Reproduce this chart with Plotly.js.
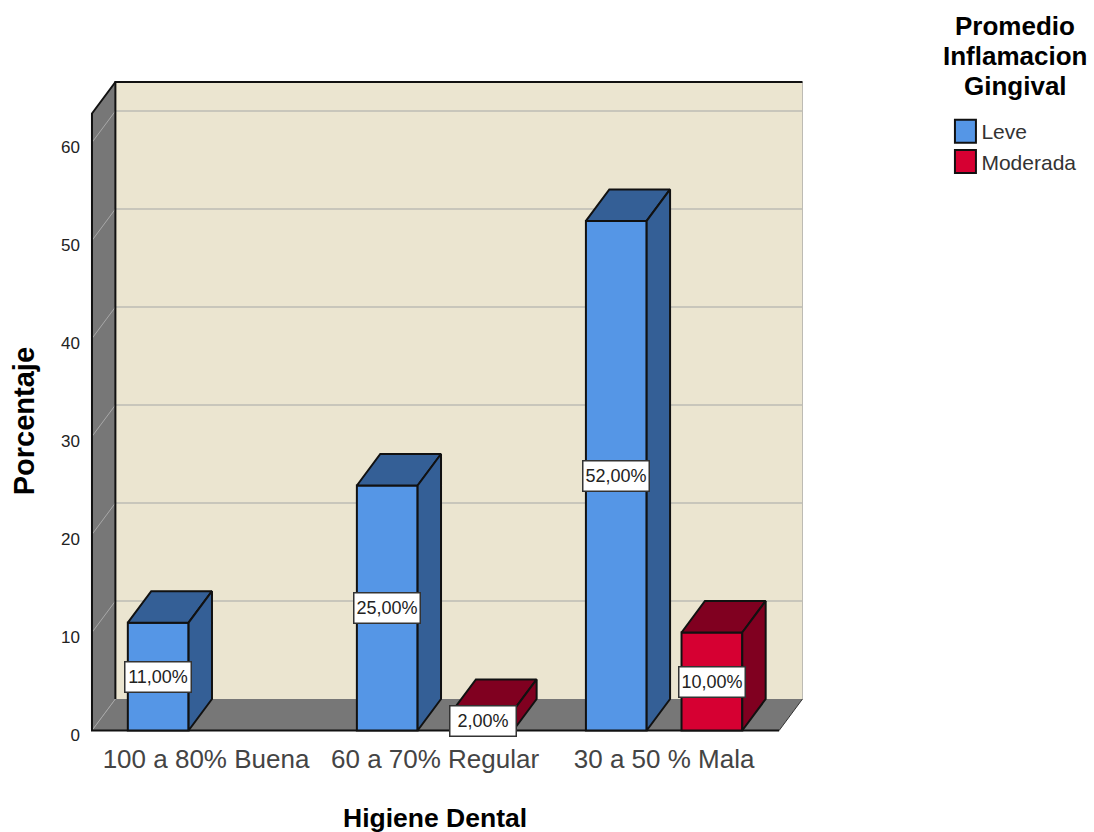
<!DOCTYPE html>
<html>
<head>
<meta charset="utf-8">
<script src="https://cdn.plot.ly/plotly-3.0.1.min.js"></script>
<style>html,body{margin:0;padding:0;background:#fff}</style>
</head>
<body>
<div id="chart" style="width:1094px;height:832px"></div>
<script>
const categories = ["100 a 80% Buena", "60 a 70% Regular", "30 a 50 % Mala"];
const leve = [11, 25, 52];
const moderada = [null, 2, 10];
const yTicks = [0, 10, 20, 30, 40, 50, 60];
const legendLines = ["Promedio", "Inflamacion", "Gingival"];

const FONT = "Liberation Sans, Arial, sans-serif";
const BLUE = "#5596E6", BLUE_DK = "#345F96", RED = "#D60032", RED_DK = "#800020";
const WALL = "#777777", BACK = "#EBE5D0", GRID = "#BDBBB4", EDGE = "#111111";

// pixel frame of the plot area and scales of the two axes
const box = {l: 88, r: 809, t: 78, b: 735, w: 1094, h: 832};
const catPx = 206.5, catUnit = 230, zeroPx = 730.5, valUnit = 9.8;
const xPx = p => (p - catPx) / catUnit;
const yPx = p => (zeroPx - p) / valUnit;

// oblique projection: how far the depth of the scene shifts a point
const depthX = 23.5 / catUnit, depthY = 31.5 / valUnit;
const barW = 61 / catUnit, barShift = 48 / catUnit;
const wallL = xPx(92), wallR = xPx(782), wallTop = yPx(113.5);

const path = pts => "M" + pts.map(p => p[0] + "," + p[1]).join("L") + "Z";
const open = pts => "M" + pts.map(p => p[0] + "," + p[1]).join("L");
const shape = (d, fill, line, width) => ({
  type: "path", path: d, xref: "x", yref: "y", layer: "below",
  fillcolor: fill || "rgba(0,0,0,0)",
  line: {color: line || "rgba(0,0,0,0)", width: width || 0}
});

const shapes = [
  shape(path([[wallL + depthX, depthY], [wallR + depthX, depthY], [wallR + depthX, wallTop + depthY], [wallL + depthX, wallTop + depthY]]), BACK),
  shape(path([[wallL, 0], [wallL + depthX, depthY], [wallL + depthX, wallTop + depthY], [wallL, wallTop]]), WALL),
  shape(path([[wallL, 0], [wallR, 0], [wallR + depthX, depthY], [wallL + depthX, depthY]]), WALL)
];
yTicks.slice(1).forEach(v => {
  shapes.push(shape(open([[wallL + depthX, v + depthY], [wallR + depthX, v + depthY]]), null, GRID, 1.5));
  shapes.push(shape(open([[wallL, v], [wallL + depthX, v + depthY]]), null, "#A8A8A8", 1));
});
shapes.push(shape(open([[wallL, 0], [wallL + depthX, depthY]]), null, "#A8A8A8", 1));
shapes.push(shape(open([[wallR + depthX, depthY], [wallR + depthX, wallTop + depthY]]), null, GRID, 1));
shapes.push(shape(open([[wallR, 0], [wallR + depthX, depthY]]), null, "#333333", 1));
shapes.push(shape(open([[wallL + depthX, depthY], [wallL + depthX, wallTop + depthY], [wallR + depthX, wallTop + depthY]]), null, EDGE, 2));
shapes.push(shape(open([[wallR, 0], [wallL, 0], [wallL, wallTop], [wallL + depthX, wallTop + depthY]]), null, EDGE, 2));

const traces = [], annotations = [];
const label = v => v.toFixed(2).replace(".", ",") + "%";

function addSeries(name, values, shift, front, dark) {
  const xs = values.map((v, i) => i);
  traces.push({
    type: "bar", name: name, x: xs, y: values, width: barW, offset: shift - barW / 2,
    marker: {color: front, line: {color: EDGE, width: 2}}, hoverinfo: "skip"
  });
  values.forEach((v, i) => {
    if (v === null) return;
    const a = i + shift - barW / 2, b = a + barW;
    const top = [[a, v], [b, v], [b + depthX, v + depthY], [a + depthX, v + depthY], [a, v]];
    const side = [[b, 0], [b + depthX, depthY], [b + depthX, v + depthY], [b, v], [b, 0]];
    [top, side].forEach(f => traces.push({
      type: "scatter", mode: "lines", x: f.map(p => p[0]), y: f.map(p => p[1]),
      fill: "toself", fillcolor: dark, line: {color: EDGE, width: 2},
      showlegend: false, hoverinfo: "skip"
    }));
    annotations.push({
      xref: "x", yref: "y", x: i + shift, y: v / 2, text: label(v), showarrow: false,
      bgcolor: "#FFFFFF", bordercolor: "#333333", borderwidth: 1.5,
      width: 65, height: 29, borderpad: 0,
      font: {family: FONT, size: 18, color: "#222222"}
    });
  });
}
addSeries("Leve", leve, -barShift, BLUE, BLUE_DK);
addSeries("Moderada", moderada, barShift, RED, RED_DK);

const paperX = p => (p - box.l) / (box.r - box.l);
const paperY = p => (box.b - p) / (box.b - box.t);
const textAt = (text, px, py, size, extra) => Object.assign({
  xref: "paper", yref: "paper", x: paperX(px), y: paperY(py), text: text, showarrow: false,
  xanchor: "center", yanchor: "middle", font: {family: FONT, size: size, color: "#000000"}
}, extra || {});

annotations.push(textAt("<b>Higiene Dental</b>", 436.5, 818, 26.5));
annotations.push(textAt("<b>Porcentaje</b>", 24, 421, 29, {textangle: -90}));
legendLines.forEach((t, i) => annotations.push(textAt("<b>" + t + "</b>", 1019, 26 + i * 30, 26)));

const layout = {
  width: box.w, height: box.h, autosize: false,
  margin: {l: box.l, r: box.w - box.r, t: box.t, b: box.h - box.b, pad: 0},
  paper_bgcolor: "#FFFFFF", plot_bgcolor: "rgba(0,0,0,0)",
  font: {family: FONT, color: "#222222"},
  showlegend: true,
  legend: {
    x: paperX(945), y: paperY(111), xanchor: "left", yanchor: "top",
    bgcolor: "rgba(0,0,0,0)", borderwidth: 0, tracegroupgap: 0,
    font: {family: FONT, size: 21, color: "#333333"}, itemclick: false, itemdoubleclick: false
  },
  xaxis: {
    range: [xPx(box.l), xPx(box.r)], tickmode: "array", tickvals: categories.map((c, i) => i), ticktext: categories,
    showgrid: false, zeroline: false, showline: false, ticks: "", ticklabelstandoff: 6,
    tickfont: {family: FONT, size: 26, color: "#444444"}, fixedrange: true
  },
  yaxis: {
    range: [yPx(box.b), yPx(box.t)], tickmode: "array", tickvals: yTicks,
    showgrid: false, zeroline: false, showline: false, ticks: "", ticklabelstandoff: 7, ticklabelshift: 5,
    tickfont: {family: FONT, size: 17, color: "#222222"}, fixedrange: true
  },
  shapes: shapes, annotations: annotations
};

Plotly.newPlot("chart", traces, layout, {displayModeBar: false, staticPlot: true}).then(gd => {
  gd.querySelectorAll("g.legendpoints path").forEach(p => {
    p.setAttribute("d", "M10.5,11.5H-10.5V-11.5H10.5Z");
    p.setAttribute("transform", "translate(24,0)");
  });
});
</script>
</body>
</html>
